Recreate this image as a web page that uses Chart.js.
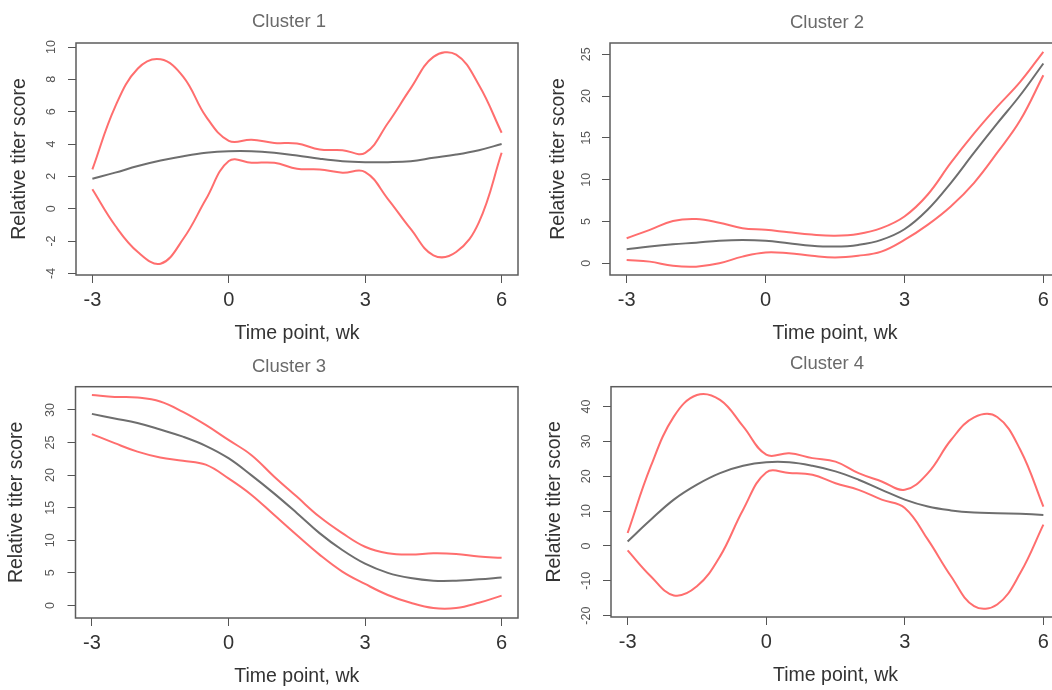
<!DOCTYPE html>
<html>
<head>
<meta charset="utf-8">
<script src="https://cdn.jsdelivr.net/npm/chart.js@4.4.0/dist/chart.umd.min.js"></script>
<style>
  html, body { margin: 0; padding: 0; background: #fff; overflow: hidden; }
  body { width: 1052px; height: 690px; position: relative; }
  canvas { position: absolute; }
</style>
</head>
<body>
<canvas id="c1"></canvas>
<canvas id="c2"></canvas>
<canvas id="c3"></canvas>
<canvas id="c4"></canvas>
<script>
// --- Data ---

const weeks = [-3, -2.5, -2, -1.5, -1, -0.5, 0, 0.5, 1, 1.5, 2, 2.5, 3, 3.5, 4, 4.5, 5, 5.5, 6];
const xTicks = [-3, 0, 3, 6];

const c1Upper = [2.43, 6.3, 8.67, 9.24, 8.16, 5.7, 4.2, 4.27, 4.07, 4.03, 3.66, 3.62, 3.46, 5.3, 7.44, 9.39, 9.53, 7.65, 4.7];
const c1Mean  = [1.85, 2.23, 2.64, 2.98, 3.25, 3.46, 3.56, 3.56, 3.46, 3.29, 3.09, 2.94, 2.88, 2.88, 2.94, 3.15, 3.35, 3.62, 4.0];
const c1Lower = [1.2, -1.04, -2.68, -3.4, -1.86, 0.6, 2.95, 2.84, 2.84, 2.47, 2.43, 2.23, 2.27, 0.6, -1.25, -2.88, -2.68, -0.84, 3.46];
const c1YTicks = [-4, -2, 0, 2, 4, 6, 8, 10];

const c2Upper = [3.0, 4.0, 5.06, 5.3, 4.86, 4.19, 4.0, 3.7, 3.43, 3.3, 3.5, 4.2, 5.6, 8.2, 12.0, 15.5, 18.7, 21.7, 25.3];
const c2Mean  = [1.67, 2.0, 2.27, 2.47, 2.7, 2.79, 2.7, 2.4, 2.1, 2.0, 2.2, 2.8, 4.07, 6.4, 9.6, 13.2, 16.7, 20.1, 23.9];
const c2Lower = [0.4, 0.2, -0.3, -0.4, 0.0, 0.8, 1.3, 1.2, 0.9, 0.7, 0.9, 1.4, 2.8, 4.6, 6.8, 9.6, 13.2, 17.1, 22.5];
const c2YTicks = [0, 5, 10, 15, 20, 25];

const c3Upper = [32.3, 32.0, 31.9, 31.3, 29.7, 27.7, 25.4, 23.1, 19.8, 16.7, 13.6, 11.1, 9.0, 8.0, 7.8, 8.0, 7.9, 7.5, 7.3];
const c3Mean  = [29.4, 28.7, 28.0, 27.0, 25.9, 24.5, 22.6, 20.0, 17.2, 14.2, 11.1, 8.5, 6.4, 5.0, 4.2, 3.8, 3.8, 4.0, 4.3];
const c3Lower = [26.3, 24.9, 23.6, 22.7, 22.2, 21.6, 19.5, 17.0, 13.9, 10.8, 7.8, 5.2, 3.3, 1.6, 0.4, -0.4, -0.4, 0.4, 1.5];
const c3YTicks = [0, 5, 10, 15, 20, 25, 30];

const c4Upper = [3.7, 22.8, 37.1, 43.3, 41.9, 34.3, 26.2, 26.6, 25.2, 24.2, 20.9, 18.5, 16.1, 20.9, 30.4, 36.9, 37.0, 27.6, 11.3];
const c4Mean  = [1.3, 7.5, 13.3, 17.6, 20.9, 23.0, 24.0, 24.0, 23.0, 21.4, 19.0, 16.1, 13.3, 11.3, 10.2, 9.6, 9.4, 9.2, 8.9];
const c4Lower = [-1.3, -8.7, -14.2, -11.6, -3.0, 10.4, 21.1, 20.9, 20.4, 18.0, 16.1, 13.3, 10.9, 1.8, -8.7, -17.3, -16.8, -7.8, 6.1];
const c4YTicks = [-20, -10, 0, 10, 20, 30, 40];

// --- Styling / layout ---

const FONT = '"Liberation Sans", Arial, Helvetica, sans-serif';
const RED = '#ff6e6e';
const GREY = '#6e6e6e';

// draws the full R-style box around the plot region
const boxPlugin = {
    id: 'box',
    afterDraw(chart) {
        const a = chart.chartArea;
        const ctx = chart.ctx;
        ctx.save();
        ctx.strokeStyle = '#5c5c5c';
        ctx.lineWidth = 1.5;
        ctx.strokeRect(a.left, a.top, a.right - a.left, a.bottom - a.top);
        ctx.restore();
    }
};

function makePanel(id, opt) {
    const canvas = document.getElementById(id);
    // canvas width chosen so the (full width) title is centred where the reference has it
    const width = Math.round(2 * (opt.titleX - opt.left));
    const height = Math.round(opt.bottom - opt.top + 70);
    canvas.width = width;
    canvas.height = height;
    canvas.style.left = opt.left + 'px';
    canvas.style.top = opt.top + 'px';

    const titleLH = 18.5 * 1.2;
    const titlePadTop = opt.titleY - opt.top - titleLH / 2;
    const titlePadBottom = opt.areaTop - opt.top - titlePadTop - titleLH;

    const mk = (vals) => weeks.map((w, i) => ({ x: w, y: vals[i] }));

    new Chart(canvas.getContext('2d'), {
        type: 'line',
        data: {
            datasets: [
                { data: mk(opt.upper), borderColor: RED, borderWidth: 2 },
                { data: mk(opt.lower), borderColor: RED, borderWidth: 2 },
                { data: mk(opt.mean), borderColor: GREY, borderWidth: 2 }
            ]
        },
        options: {
            responsive: false,
            animation: false,
            devicePixelRatio: 1,
            layout: { padding: 0 },
            elements: {
                point: { radius: 0 },
                line: { tension: 0.4, fill: false }
            },
            plugins: {
                legend: { display: false },
                tooltip: { enabled: false },
                title: {
                    display: true,
                    text: opt.title,
                    color: '#6a6a6a',
                    font: { family: FONT, size: 18.5, weight: 'normal', lineHeight: 1.2 },
                    padding: { top: titlePadTop, bottom: titlePadBottom }
                }
            },
            scales: {
                x: {
                    type: 'linear',
                    min: -3.36,
                    max: 6.36,
                    afterBuildTicks: (s) => { s.ticks = xTicks.map(v => ({ value: v })); },
                    afterFit: (s) => { s.height = 70; },
                    grid: { drawOnChartArea: false, drawTicks: true, tickLength: 8, color: '#555', lineWidth: 1 },
                    border: { display: false },
                    ticks: { color: '#333', padding: 5, maxRotation: 0, font: { family: FONT, size: 20 } },
                    title: {
                        display: true,
                        text: 'Time point, wk',
                        color: '#333',
                        font: { family: FONT, size: 19.5, lineHeight: 1.2 },
                        padding: { top: 0, bottom: 0 }
                    }
                },
                y: {
                    type: 'linear',
                    min: opt.yMin,
                    max: opt.yMax,
                    afterBuildTicks: (s) => { s.ticks = opt.yTicks.map(v => ({ value: v })); },
                    afterFit: (s) => { s.width = opt.areaLeft - opt.left; },
                    grid: { drawOnChartArea: false, drawTicks: true, tickLength: 8, color: '#555', lineWidth: 1 },
                    border: { display: false },
                    ticks: {
                        color: '#555',
                        padding: opt.yTickPad,
                        minRotation: 90,
                        maxRotation: 90,
                        crossAlign: 'center',
                        font: { family: FONT, size: 12.5 }
                    },
                    title: {
                        display: true,
                        text: 'Relative titer score',
                        color: '#333',
                        font: { family: FONT, size: 19.5, lineHeight: 1.2 },
                        padding: { top: opt.yTitleX - opt.left - 11.7, bottom: 0 }
                    }
                },
                // empty spacer on the right, only there to fix the plot's right edge
                yr: {
                    type: 'linear',
                    position: 'right',
                    display: true,
                    grid: { display: false },
                    border: { display: false },
                    ticks: { display: false },
                    afterFit: (s) => { s.width = width - (opt.right - opt.left); }
                }
            }
        },
        plugins: [boxPlugin]
    });
}

makePanel('c1', {
    title: 'Cluster 1', left: 0, top: 0, areaLeft: 76, areaTop: 43, right: 518, bottom: 275,
    titleX: 289, titleY: 22, yTitleX: 19.5, yTickPad: 9.5,
    yMin: -4.1, yMax: 10.25, yTicks: c1YTicks,
    upper: c1Upper, mean: c1Mean, lower: c1Lower
});

makePanel('c2', {
    title: 'Cluster 2', left: 530, top: 0, areaLeft: 610, areaTop: 43, right: 1060, bottom: 275,
    titleX: 827, titleY: 23, yTitleX: 558.3, yTickPad: 8.5,
    yMin: -1.4, yMax: 26.35, yTicks: c2YTicks,
    upper: c2Upper, mean: c2Mean, lower: c2Lower
});

makePanel('c3', {
    title: 'Cluster 3', left: 0, top: 344, areaLeft: 75.5, areaTop: 386.7, right: 518, bottom: 618.3,
    titleX: 289, titleY: 366.7, yTitleX: 17, yTickPad: 10,
    yMin: -1.93, yMax: 33.57, yTicks: c3YTicks,
    upper: c3Upper, mean: c3Mean, lower: c3Lower
});

makePanel('c4', {
    title: 'Cluster 4', left: 530, top: 344, areaLeft: 611, areaTop: 386.7, right: 1060, bottom: 617,
    titleX: 827, titleY: 363.5, yTitleX: 555, yTickPad: 7.5,
    yMin: -20.4, yMax: 45.7, yTicks: c4YTicks,
    upper: c4Upper, mean: c4Mean, lower: c4Lower
});
</script>
</body>
</html>
